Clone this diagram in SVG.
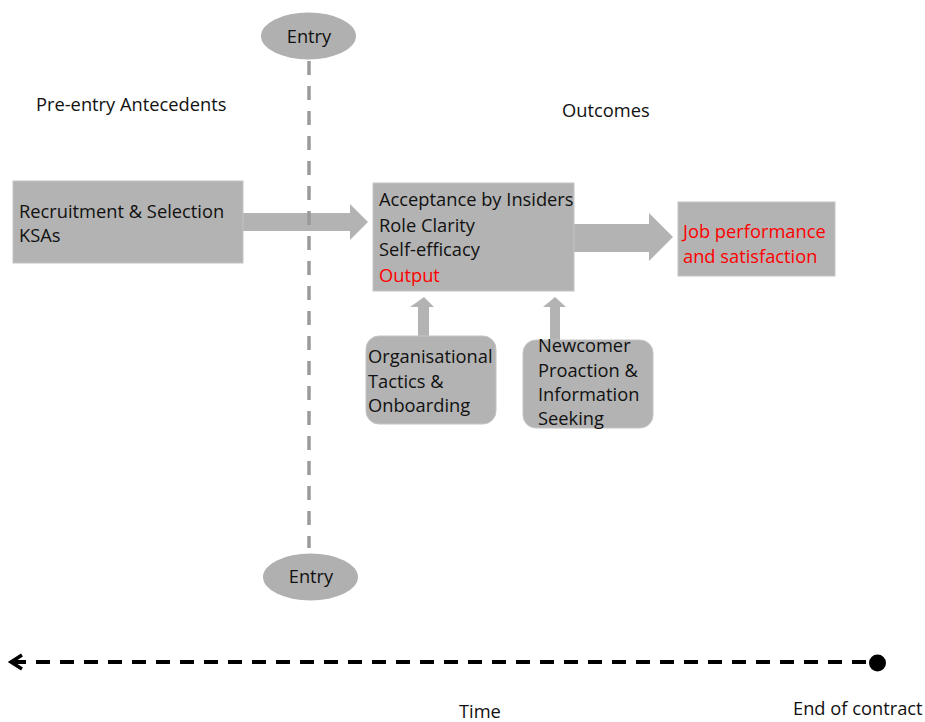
<svg xmlns="http://www.w3.org/2000/svg" width="925" height="722" viewBox="0 0 925 722">
<style>
text{font-family:"Open Sans","Noto Sans","Liberation Sans",sans-serif;fill:#111;}
.t{font-size:18.3px;}
.s{font-size:18.3px;}
.red{fill:#ff0000;}
.box{fill:#b3b3b3;stroke:#c4c4c4;stroke-width:1;}
.arr{fill:#b3b3b3;}
.ent{fill:#b0b0b0;}
</style>
<rect width="925" height="722" fill="#ffffff"/>
<g id="labels">
<text class="t" x="36" y="111">Pre-entry Antecedents</text>
<text class="t" x="562" y="117">Outcomes</text>
<text class="s" x="459" y="718">Time</text>
<text class="s" x="793" y="715">End of contract</text>
</g>
<g id="connectors">
<polygon class="arr" points="243,213 350,213 350,204 368,222 350,240 350,231 243,231"/>
<polygon class="arr" points="574,224 649,224 649,213 673,237 649,261 649,252 574,252"/>
<polygon class="arr" points="418,336 418,307 410,307 424,297 434,307 429,307 429,336"/>
<polygon class="arr" points="550,341 550,307 543,307 555,297 566,307 560,307 560,341"/>
<line x1="309" y1="61" x2="309" y2="548" stroke="#9a9a9a" stroke-width="3.5" stroke-dasharray="14 11"/>
<line x1="12" y1="662" x2="868" y2="662" stroke="#000" stroke-width="4" stroke-dasharray="14 10"/>
<polyline points="22,655 11,662 22,669" fill="none" stroke="#000" stroke-width="3.5"/>
<ellipse cx="877.5" cy="663" rx="8.5" ry="8.5" fill="#000"/>
</g>
<g id="entry-top">
<ellipse class="ent" cx="308.5" cy="36" rx="47.5" ry="23.5"/>
<text class="t" x="309" y="43" text-anchor="middle">Entry</text>
</g>
<g id="entry-bottom">
<ellipse class="ent" cx="310.5" cy="577" rx="47.5" ry="23.5"/>
<text class="t" x="311" y="583" text-anchor="middle">Entry</text>
</g>
<g id="recruitment">
<rect class="box" x="13" y="181" width="230" height="82"/>
<text class="t" x="19" y="218">Recruitment &amp; Selection</text>
<text class="t" x="19" y="242">KSAs</text>
</g>
<g id="outcomes-box">
<rect class="box" x="373" y="183" width="201" height="108"/>
<text class="t" x="379" y="206">Acceptance by Insiders</text>
<text class="t" x="379" y="232">Role Clarity</text>
<text class="t" x="379" y="256">Self-efficacy</text>
<text class="t red" x="379" y="282">Output</text>
</g>
<g id="job">
<rect class="box" x="678" y="202" width="157" height="74"/>
<text class="t red" x="683" y="238">Job performance</text>
<text class="t red" x="683" y="263">and satisfaction</text>
</g>
<g id="org">
<rect class="box" x="366" y="336" width="130" height="88" rx="13"/>
<text class="t" x="368" y="363">Organisational</text>
<text class="t" x="368" y="388">Tactics &amp;</text>
<text class="t" x="368" y="412">Onboarding</text>
</g>
<g id="newcomer">
<rect class="box" x="523" y="340" width="130" height="88" rx="13"/>
<text class="t" x="538" y="352">Newcomer</text>
<text class="t" x="538" y="377">Proaction &amp;</text>
<text class="t" x="538" y="401">Information</text>
<text class="t" x="538" y="425">Seeking</text>
</g>
</svg>
